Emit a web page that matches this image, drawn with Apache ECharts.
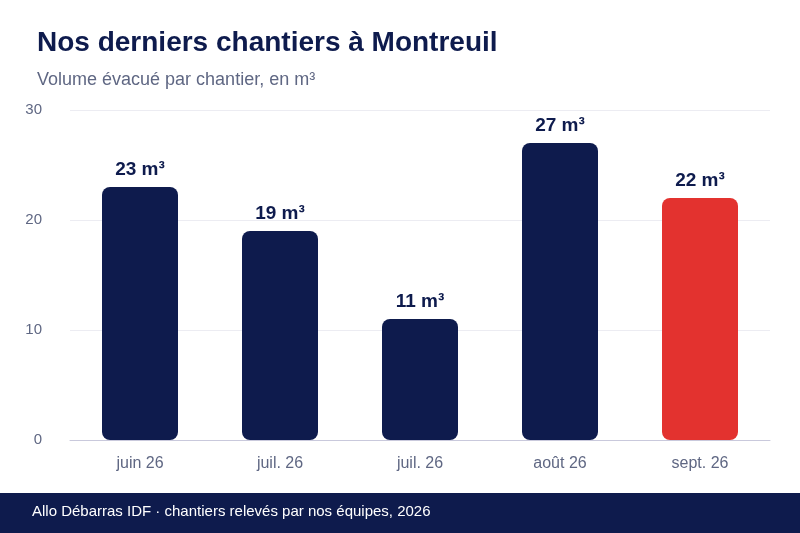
<!DOCTYPE html>
<html>
<head>
<meta charset="utf-8">
<script src="https://cdn.jsdelivr.net/npm/echarts@6/dist/echarts.min.js"></script>
<style>html,body{margin:0;padding:0;background:#fff}#chart{width:800px;height:533px}</style>
</head>
<body>
<div id="chart"></div>
<script>
//catégories (mois des chantiers)
var categories = ['juin 26', 'juil. 26', 'juil. 26', 'août 26', 'sept. 26'];
//volume évacué, en m³
var volumes = [23, 19, 11, 27, 22];
//le dernier chantier est mis en avant
var highlightIndex = 4;

var navy = '#0e1b4d';
var red = '#e3322f';

var chart = echarts.init(document.getElementById('chart'));

var barData = [];
for (var i = 0; i < volumes.length; i++) {
	barData.push({
		value: volumes[i],
		itemStyle: { color: i == highlightIndex ? red : navy }
	});
}

var option = {
	animation: false,
	textStyle: { fontFamily: 'Liberation Sans, Arial, sans-serif' },
	title: {
		text: 'Nos derniers chantiers à Montreuil',
		subtext: 'Volume évacué par chantier, en m³',
		left: 32,
		top: 24,
		itemGap: 14,
		textStyle: { color: navy, fontSize: 28, fontWeight: 'bold' },
		subtextStyle: { color: '#5f6783', fontSize: 18 }
	},
	grid: {
		left: 70,
		right: 30,
		top: 110,
		bottom: 93
	},
	xAxis: {
		type: 'category',
		data: categories,
		axisTick: { show: false },
		axisLine: { lineStyle: { color: '#c9c9dc' } },
		axisLabel: { color: '#5f6783', fontSize: 16, margin: 16 }
	},
	yAxis: {
		type: 'value',
		min: 0,
		max: 30,
		interval: 10,
		axisLabel: { color: '#5f6783', fontSize: 15, margin: 28 },
		splitLine: { lineStyle: { color: '#ececf2' } }
	},
	series: [{
		type: 'bar',
		data: barData,
		barWidth: 76,
		itemStyle: { borderRadius: 8 },
		label: {
			show: true,
			position: 'top',
			distance: 8,
			formatter: '{c} m³',
			color: navy,
			fontSize: 19,
			fontWeight: 'bold'
		}
	}],
	graphic: [{
		type: 'rect',
		left: 0,
		top: 493,
		shape: { width: 800, height: 40 },
		style: { fill: navy }
	}, {
		type: 'text',
		left: 32,
		top: 504,
		style: {
			text: 'Allo Débarras IDF · chantiers relevés par nos équipes, 2026',
			fill: '#ffffff',
			fontSize: 15,
			fontFamily: 'Liberation Sans, Arial, sans-serif'
		}
	}]
};

chart.setOption(option);
</script>
</body>
</html>
